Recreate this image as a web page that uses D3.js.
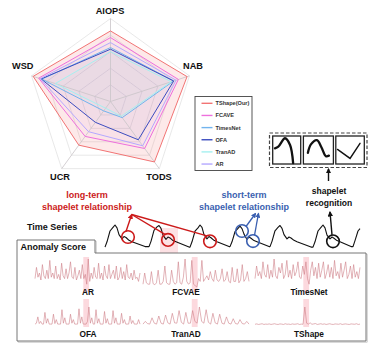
<!DOCTYPE html>
<html><head><meta charset="utf-8">
<script src="https://cdn.jsdelivr.net/npm/d3@7"></script>
<style>body{margin:0;background:#fff}svg{display:block}text{font-family:"Liberation Sans",Arial,sans-serif;font-weight:bold}</style>
</head><body><svg id="c" width="373" height="343"></svg>
<script>
// ---------------- data ----------------
const axes = ["AIOPS","NAB","TODS","UCR","WSD"];
const models = ["TShape(Our)","FCAVE","TimesNet","OFA","TranAD","AR"];
const tshapeVals   = [0.85,0.97,0.90,0.65,0.98];
const fcvaeVals    = [0.77,0.86,0.70,0.52,0.91];
const timesnetVals = [0.65,0.80,0.24,0.14,0.87];
const ofaVals      = [0.63,0.80,0.57,0.31,0.88];
const tranadVals   = [0.60,0.77,0.22,0.10,0.70];
const arVals       = [0.71,0.83,0.66,0.45,0.89];
const gridLevels = [0.2,0.4,0.6,0.8,1.0];

// time series (x offset, amplitude)
const tsX = [0,2,5,8,10,12,14,17,19,21,24,27,40,
  44,46,49,52,54,56,58,61,63,65,68,71,84,
  85,87,90,93,95,97,99,102,104,106,109,112,124,
  125,127,130,133,135,137,139,142,144,146,149,152,164,
  165,167,170,173,175,177,179,182,184,186,189,192,206,
  208,210,213,216,218,220,222,225,227,229,232,235,246,
  248,250,253,255];
const tsY = [.08,.3,.75,.9,1,.88,.6,.42,.52,.48,.36,.3,.1,
  .1,.32,.78,.92,.98,.86,.58,.4,.5,.46,.35,.3,.08,
  .08,.3,.74,.88,1,.9,.6,.42,.52,.47,.36,.3,.1,
  .1,.3,.72,.86,.95,.85,.62,.4,.5,.45,.35,.3,.1,
  .1,.32,.76,.9,.98,.86,.6,.42,.5,.46,.36,.3,.08,
  .08,.3,.75,.9,1,.88,.58,.42,.5,.45,.35,.3,.1,
  .1,.35,.75,.85];
const tsAnomaly = [55,73];
const longCircles = [[23,.5],[63,.38],[105,.32]];
const shortCircles = [[137,.75],[148,.33]];
const recogCircle = [[228,.32]];

// shapelet icons (x in box 0..1, value 0..1)
const shp1X = [.08,.2,.44,.62,.73], shp1V = [.56,.62,.92,.68,.03];
const shp2X = [.15,.25,.45,.6,.75,.85], shp2V = [.4,.7,.85,.6,.28,.3];
const shp3X = [.06,.5,.85], shp3V = [.52,.2,.74];

// anomaly scores
const arScore = [0.3,0.7,0.35,0.5,0.25,0.8,0.4,0.3,0.6,0.3,0.95,0.35,0.5,0.3,0.75,0.3,0.45,0.25,0.85,0.4,0.3,0.65,0.3,0.5,0.9,0.35,0.3,0.7,0.25,0.4,0.6,0.3,0.8,0.3,0.45,0.1,1.0,0.2,0.5,0.3,0.7,0.35,0.3,0.85,0.3,0.5,0.25,0.75,0.4,0.3,0.8,0.3,0.45,0.6,0.3,0.75,0.25,0.35,0.7,0.3,0.55,0.25,0.8,0.35,0.3,0.5,0.25,0.6,0.3,0.35,0.2,0.5];
const fcvaeScore = [0.1,0.5,0.15,0.1,0.1,0.55,0.12,0.08,0.15,0.6,0.1,0.1,0.2,0.75,0.15,0.1,0.1,0.6,0.2,0.1,0.15,0.9,0.15,0.1,0.35,1.0,0.2,0.1,0.15,0.95,0.1,0.05,0.0,0.3,0.2,0.95,0.2,0.3,0.4,0.25,0.55,0.3,0.2,0.6,0.25,0.2,0.3,0.65,0.2,0.25,0.55,0.2,0.15,0.7,0.2,0.2,0.65,0.15,0.25,0.8,0.2,0.3,0.55,0.2];
const timesnetScore = [0.3,0.75,0.4,0.55,0.3,0.9,0.45,0.35,0.8,0.3,0.6,0.35,1.0,0.4,0.3,0.7,0.5,0.85,0.3,0.45,0.95,0.35,0.6,0.3,0.8,0.4,0.55,0.9,0.35,0.3,0.75,0.45,0.9,0.3,0.1,0.6,0.9,0.4,0.7,0.3,0.85,0.35,0.6,0.9,0.3,0.5,0.8,0.35,0.7,0.3,0.95,0.4,0.55,0.3,0.85,0.35,0.6,0.9,0.3,0.45,0.75,0.3,0.8,0.35,0.55,0.3,0.7];
const ofaScore = [0.05,0.1,0.45,0.08,0.2,0.05, 0.05,0.7,0.1,0.35,0.05,0.05, 0.05,0.6,0.08,0.3,0.05,0.05, 0.05,0.85,0.1,0.4,0.05,0.05, 0.05,0.6,0.1,0.3,0.05,0.05, 0.05,0.9,0.1,0.45,0.05,0.05, 0.05,0.2,1.0,0.1,0.4,0.05, 0.05,0.85,0.1,0.35,0.05,0.05, 0.05,0.75,0.1,0.35,0.05,0.05, 0.05,0.8,0.1,0.4,0.05,0.05, 0.05,0.65,0.1,0.3,0.05,0.05, 0.05,0.5,0.08,0.25,0.05,0.05, 0.05,0.3,0.05];
const tranadScore = [0.05,0.2,0.08, 0.05,0.4,0.1, 0.05,0.5,0.1, 0.05,0.55,0.12, 0.05,0.65,0.12, 0.1,0.8,0.15, 0.05,0.7,0.1, 0.1,0.8,0.2, 0.1,1.0,0.2, 0.1,0.85,0.15, 0.05,0.65,0.12, 0.05,0.6,0.1, 0.05,0.45,0.1, 0.05,0.35,0.08, 0.05,0.3,0.08, 0.05,0.2,0.05];
const tshapeScore = [0.04,0.06,0.03,0.05,0.07,0.03,0.05,0.04,0.06,0.03,0.05,0.07,0.04,0.03,0.06,0.05,0.03,0.07,0.04,0.05,0.03,0.06,0.04,0.05,0.07,0.03,0.05,0.04,1.0,0.1,0.05,0.12,0.04,0.06,0.08,0.03,0.05,0.07,0.04,0.06,0.03,0.05,0.07,0.04,0.03,0.06,0.05,0.04,0.07,0.03,0.05,0.06,0.04,0.03,0.06,0.05,0.04,0.07,0.03,0.05];
const panelNames = ["AR","FCVAE","TimesNet","OFA","TranAD","TShape"];
const scoreAnomaly = [0.46,0.515];

// ---------------- drawing ----------------
const svg = d3.select("#c");
const colors = ["#f27474","#ee70dd","#72b4ee","#3c4cbf","#a6f0f0","#b4a8ff"];
const seriesVals = [tshapeVals,fcvaeVals,timesnetVals,ofaVals,tranadVals,arVals];

const defs = svg.append("defs");
function marker(id,color){
  defs.append("marker").attr("id",id).attr("viewBox","0 0 10 10").attr("refX",8).attr("refY",5)
    .attr("markerWidth",4).attr("markerHeight",4).attr("orient","auto-start-reverse")
    .append("path").attr("d","M0,0L10,5L0,10z").attr("fill",color);
}
marker("aR","#cc1a1a"); marker("aB","#3a5fb0"); marker("aK","#111");

// radar
const cx = 110.5, cy = 101.5, R = 83;
const rS = d3.scaleLinear().domain([0,1]).range([0,R]);
const aS = d3.scalePoint().domain(axes).range([0, Math.PI*2*4/5]);
const pt = (a,v) => { const t = aS(a) - Math.PI/2; return [cx + rS(v)*Math.cos(t), cy + rS(v)*Math.sin(t)]; };
const g = svg.append("g");
gridLevels.forEach(l => {
  g.append("polygon").attr("points", axes.map(a => pt(a,l).join(",")).join(" "))
   .attr("fill","none").attr("stroke","#e2e2e2").attr("stroke-width",0.8);
});
seriesVals.forEach((vals,i) => {
  g.append("polygon").attr("points", axes.map((a,j) => pt(a,vals[j]).join(",")).join(" "))
   .attr("fill", colors[i]).attr("fill-opacity", i===0?0.16:0.035).attr("stroke","none");
});
axes.forEach(a => {
  const p = pt(a,1);
  g.append("line").attr("x1",cx).attr("y1",cy).attr("x2",p[0]).attr("y2",p[1]).attr("stroke","#c9c4c8").attr("stroke-width",0.8);
});
seriesVals.forEach((vals,i) => {
  g.append("polygon").attr("points", axes.map((a,j) => pt(a,vals[j]).join(",")).join(" "))
   .attr("fill","none").attr("stroke", colors[i]).attr("stroke-width", 1).attr("stroke-linejoin","round");
});
const lab = [["AIOPS",110,14,"middle"],["NAB",183,68.5,"start"],["TODS",159,180,"middle"],["UCR",60,180,"middle"],["WSD",33.5,68.5,"end"]];
lab.forEach(d => svg.append("text").attr("x",d[1]).attr("y",d[2]).attr("text-anchor",d[3]).attr("font-size",9.2).attr("fill","#111").text(d[0]));

// legend
svg.append("rect").attr("x",195).attr("y",96.5).attr("width",57).attr("height",74).attr("fill","#fff").attr("stroke","#444").attr("stroke-width",0.9);
models.forEach((m,i) => {
  const y = 103.3 + i*12.15;
  svg.append("line").attr("x1",201.5).attr("x2",212.5).attr("y1",y).attr("y2",y).attr("stroke",colors[i]).attr("stroke-width",1.4);
  svg.append("text").attr("x",215.5).attr("y",y+2).attr("font-size",5.6).attr("fill","#333").text(m);
});

// shapelet boxes
svg.append("rect").attr("x",269.5).attr("y",133).attr("width",97.5).attr("height",34.5).attr("fill","none").attr("stroke","#444").attr("stroke-width",1.2).attr("stroke-dasharray","3.5,2");
const boxes = [[272.7,28],[303.4,30],[335.8,28.5]];
const shp = [[shp1X,shp1V],[shp2X,shp2V],[shp3X,shp3V]];
boxes.forEach((b,i) => {
  svg.append("rect").attr("x",b[0]).attr("y",136).attr("width",b[1]).attr("height",28).attr("fill","#fff").attr("stroke","#222").attr("stroke-width",1.3);
  const xs = d3.scaleLinear().domain([0,1]).range([b[0],b[0]+b[1]]);
  const ys = d3.scaleLinear().domain([0,1]).range([164,136]);
  svg.append("path").attr("d", d3.line().curve(i===2?d3.curveLinear:d3.curveCatmullRom)(shp[i][0].map((x,k)=>[xs(x),ys(shp[i][1][k])])))
    .attr("fill","none").attr("stroke","#111").attr("stroke-width",i===2?1.4:2.3).attr("stroke-linecap","round");
});
svg.append("line").attr("x1",328.5).attr("y1",181).attr("x2",328.5).attr("y2",169).attr("stroke","#111").attr("stroke-width",1.4).attr("marker-end","url(#aK)");
svg.append("text").attr("x",329).attr("y",194).attr("text-anchor","middle").attr("font-size",8.5).attr("fill","#111").text("shapelet");
svg.append("text").attr("x",329).attr("y",206).attr("text-anchor","middle").attr("font-size",8.5).attr("fill","#111").text("recognition");

// annotation texts
svg.append("text").attr("x",87).attr("y",198).attr("text-anchor","middle").attr("font-size",9).attr("fill","#cc1a1a").text("long-term");
svg.append("text").attr("x",87).attr("y",209.5).attr("text-anchor","middle").attr("font-size",9).attr("fill","#cc1a1a").text("shapelet relationship");
svg.append("text").attr("x",244).attr("y",198).attr("text-anchor","middle").attr("font-size",9).attr("fill","#3a5fb0").text("short-term");
svg.append("text").attr("x",244).attr("y",209.5).attr("text-anchor","middle").attr("font-size",9).attr("fill","#3a5fb0").text("shapelet relationship");
svg.append("text").attr("x",27).attr("y",229.5).attr("font-size",9).attr("fill","#111").text("Time Series");

// time series
const tx = d3.scaleLinear().domain([0,255]).range([105,360]);
const ty = d3.scaleLinear().domain([0,1]).range([249,225]);
svg.append("rect").attr("x",tx(tsAnomaly[0])).attr("y",228).attr("width",tx(tsAnomaly[1])-tx(tsAnomaly[0])).attr("height",25).attr("fill","#fde1e4");

// panel
const panel = "M95,253L366,253L366,341L17,341L17,240L95,240L95,253";
svg.append("path").attr("d",panel).attr("transform","translate(1.2,1.2)").attr("fill","none").attr("stroke","#c8c8c8").attr("stroke-width",1);
svg.append("path").attr("d",panel).attr("fill","#fff").attr("stroke","#666").attr("stroke-width",0.9);
svg.append("text").attr("x",20.5).attr("y",249.5).attr("font-size",9).attr("fill","#111").text("Anomaly Score");

svg.append("path").attr("d", d3.line()(tsX.map((x,i)=>[tx(x),ty(tsY[i])])))
  .attr("fill","none").attr("stroke","#111").attr("stroke-width",1.1).attr("stroke-linejoin","round");

// circles and relationship arrows
const circ = (arr,color) => arr.forEach(c => svg.append("circle").attr("cx",tx(c[0])).attr("cy",ty(c[1])).attr("r",6.3).attr("fill","none").attr("stroke",color).attr("stroke-width",1.6));
circ(longCircles,"#cc1a1a"); circ(shortCircles,"#3a5fb0"); circ(recogCircle,"#111");
const conv = [131.7,214.5];
longCircles.forEach((c,i) => {
  const x = tx(c[0]) - (i===0?2:3), y = ty(c[1]) - 5.5;
  svg.append("line").attr("x1",x).attr("y1",y).attr("x2",conv[0]).attr("y2",conv[1]).attr("stroke","#cc1a1a").attr("stroke-width",1.4).attr("marker-end", i===0?"url(#aR)":null);
});
shortCircles.forEach((c,i) => {
  const x = tx(c[0]) + (i===0?4:1.5), y = ty(c[1]) - (i===0?4.5:6);
  svg.append("line").attr("x1",x).attr("y1",y).attr("x2",255.5+i*3).attr("y2",213.5).attr("stroke","#3a5fb0").attr("stroke-width",1.3).attr("marker-end","url(#aB)");
});
svg.append("line").attr("x1",tx(recogCircle[0][0])-1).attr("y1",ty(recogCircle[0][1])-6.5).attr("x2",330).attr("y2",212).attr("stroke","#111").attr("stroke-width",1.4).attr("marker-end","url(#aK)");

// anomaly score subplots
const scores = [arScore,fcvaeScore,timesnetScore,ofaScore,tranadScore,tshapeScore];
const cols = [[35,140],[143,249],[255,360]];
const rows = [{y0:287,y1:259,b0:257,b1:292,lab:294.5},{y0:325,y1:307,b0:299,b1:327,lab:336.5}];
const labX = [88,186,309];
scores.forEach((s,i) => {
  const c = cols[i%3], r = rows[Math.floor(i/3)];
  const xs = d3.scaleLinear().domain([0,1]).range(c);
  const ys = d3.scaleLinear().domain([0,1]).range([r.y0,r.y1]);
  svg.append("rect").attr("x",xs(scoreAnomaly[0])).attr("y",r.b0).attr("width",xs(scoreAnomaly[1])-xs(scoreAnomaly[0])).attr("height",r.b1-r.b0).attr("fill","#fcd9de");
  svg.append("path").attr("d", d3.line()(s.map((v,k)=>[xs(k/(s.length-1)), ys(v)])))
    .attr("fill","none").attr("stroke","#cf7f88").attr("stroke-width",0.6).attr("stroke-linejoin","round");
  svg.append("text").attr("x",labX[i%3]).attr("y",r.lab).attr("text-anchor","middle").attr("font-size",8.3).attr("fill","#111").text(panelNames[i]);
});
</script></body></html>
